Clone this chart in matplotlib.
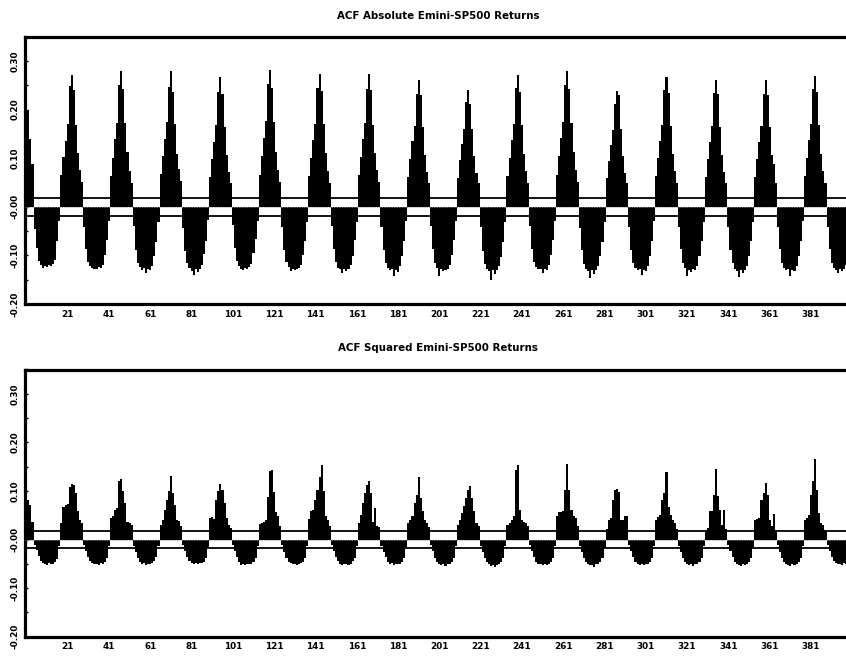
import matplotlib
matplotlib.use("Agg")
import matplotlib.pyplot as plt
from matplotlib.ticker import MultipleLocator, FixedLocator, FixedFormatter

# ---------------- data ----------------
titles = ["ACF Absolute Emini-SP500 Returns", "ACF Squared Emini-SP500 Returns"]
conf_band = 0.018
x_tick_values = [21, 41, 61, 81, 101, 121, 141, 161, 181, 201, 221, 241, 261, 281, 301, 321, 341, 361, 381]
y_tick_values = [0.30, 0.20, 0.10, 0.0, -0.10, -0.20]
y_tick_labels = ["0.30", "0.20", "0.10", "-0.00", "-0.10", "-0.20"]

# ACF of absolute returns, lags 1..400
acf_abs = [
    0.290, 0.200, 0.140, 0.088, -0.045, -0.085, -0.112, -0.120, -0.125, -0.122, -0.124, -0.120, -0.122, -0.118, -0.110, -0.070, -0.030,
    0.066, 0.102, 0.136, 0.170, 0.248, 0.272, 0.240, 0.168, 0.110, 0.076, 0.052,
    -0.042, -0.086, -0.113, -0.121, -0.125, -0.127, -0.128, -0.124, -0.126, -0.119, -0.100, -0.068, -0.030,
    0.064, 0.100, 0.140, 0.172, 0.250, 0.279, 0.242, 0.172, 0.112, 0.074, 0.050,
    -0.040, -0.088, -0.115, -0.124, -0.130, -0.126, -0.136, -0.128, -0.131, -0.122, -0.102, -0.072, -0.032,
    0.068, 0.104, 0.140, 0.175, 0.246, 0.279, 0.236, 0.170, 0.108, 0.078, 0.054,
    -0.044, -0.090, -0.116, -0.126, -0.132, -0.140, -0.128, -0.134, -0.129, -0.120, -0.098, -0.070, -0.028,
    0.062, 0.098, 0.134, 0.168, 0.236, 0.267, 0.232, 0.165, 0.106, 0.072, 0.050,
    -0.038, -0.084, -0.112, -0.122, -0.127, -0.130, -0.126, -0.129, -0.124, -0.117, -0.096, -0.066, -0.030,
    0.066, 0.104, 0.142, 0.176, 0.252, 0.282, 0.244, 0.174, 0.112, 0.076, 0.052,
    -0.042, -0.088, -0.114, -0.124, -0.133, -0.127, -0.130, -0.128, -0.126, -0.119, -0.100, -0.070, -0.032,
    0.064, 0.100, 0.138, 0.170, 0.244, 0.273, 0.238, 0.170, 0.110, 0.074, 0.050,
    -0.040, -0.086, -0.114, -0.125, -0.129, -0.136, -0.127, -0.132, -0.128, -0.120, -0.101, -0.069, -0.031,
    0.066, 0.102, 0.140, 0.172, 0.242, 0.273, 0.240, 0.168, 0.110, 0.076, 0.052,
    -0.042, -0.088, -0.116, -0.126, -0.131, -0.129, -0.143, -0.130, -0.134, -0.121, -0.102, -0.071, -0.030,
    0.062, 0.098, 0.136, 0.166, 0.232, 0.260, 0.230, 0.164, 0.106, 0.072, 0.050,
    -0.040, -0.087, -0.115, -0.125, -0.143, -0.128, -0.133, -0.131, -0.128, -0.120, -0.100, -0.068, -0.029,
    0.060, 0.096, 0.130, 0.160, 0.215, 0.240, 0.212, 0.160, 0.104, 0.070, 0.048,
    -0.042, -0.090, -0.118, -0.128, -0.132, -0.150, -0.130, -0.138, -0.130, -0.122, -0.103, -0.072, -0.032,
    0.064, 0.100, 0.138, 0.170, 0.244, 0.272, 0.236, 0.168, 0.108, 0.074, 0.050,
    -0.040, -0.086, -0.114, -0.124, -0.129, -0.127, -0.136, -0.128, -0.130, -0.120, -0.100, -0.069, -0.030,
    0.066, 0.104, 0.142, 0.174, 0.250, 0.279, 0.242, 0.172, 0.112, 0.076, 0.052,
    -0.043, -0.089, -0.117, -0.127, -0.133, -0.146, -0.131, -0.139, -0.130, -0.122, -0.102, -0.072, -0.031,
    0.060, 0.094, 0.128, 0.158, 0.212, 0.239, 0.230, 0.160, 0.104, 0.070, 0.048,
    -0.041, -0.088, -0.116, -0.126, -0.131, -0.128, -0.140, -0.131, -0.133, -0.121, -0.101, -0.070, -0.030,
    0.064, 0.100, 0.136, 0.168, 0.240, 0.268, 0.234, 0.166, 0.108, 0.074, 0.050,
    -0.041, -0.087, -0.115, -0.126, -0.143, -0.130, -0.134, -0.129, -0.131, -0.121, -0.101, -0.070, -0.031,
    0.062, 0.098, 0.134, 0.166, 0.234, 0.261, 0.232, 0.164, 0.106, 0.072, 0.050,
    -0.042, -0.088, -0.116, -0.127, -0.132, -0.145, -0.131, -0.136, -0.130, -0.122, -0.102, -0.071, -0.031,
    0.062, 0.098, 0.134, 0.166, 0.232, 0.260, 0.230, 0.164, 0.106, 0.088, 0.050,
    -0.041, -0.087, -0.115, -0.126, -0.131, -0.129, -0.143, -0.131, -0.133, -0.121, -0.101, -0.070, -0.030,
    0.064, 0.100, 0.138, 0.170, 0.242, 0.270, 0.236, 0.168, 0.108, 0.074, 0.050,
    -0.041, -0.087, -0.115, -0.125, -0.130, -0.136, -0.128, -0.132, -0.129, -0.120, -0.100, -0.070,
]

# ACF of squared returns, lags 1..400
acf_sq = [
    0.160, 0.082, 0.071, 0.037, -0.012, -0.022, -0.034, -0.044, -0.049, -0.050, -0.052, -0.049, -0.051, -0.050, -0.047, -0.040, -0.014,
    0.034, 0.068, 0.071, 0.074, 0.109, 0.114, 0.112, 0.095, 0.058, 0.040, 0.034,
    -0.012, -0.024, -0.036, -0.045, -0.049, -0.051, -0.050, -0.052, -0.049, -0.050, -0.046, -0.038, -0.014,
    0.044, 0.048, 0.061, 0.065, 0.121, 0.124, 0.100, 0.075, 0.037, 0.035, 0.030,
    -0.013, -0.025, -0.037, -0.046, -0.050, -0.049, -0.052, -0.050, -0.051, -0.049, -0.045, -0.036, -0.013,
    0.031, 0.040, 0.061, 0.082, 0.099, 0.131, 0.095, 0.071, 0.041, 0.038, 0.028,
    -0.012, -0.023, -0.036, -0.045, -0.048, -0.050, -0.049, -0.051, -0.048, -0.049, -0.047, -0.038, -0.015,
    0.044, 0.046, 0.042, 0.082, 0.099, 0.114, 0.102, 0.075, 0.044, 0.030, 0.024,
    -0.011, -0.024, -0.035, -0.046, -0.052, -0.050, -0.053, -0.051, -0.050, -0.051, -0.046, -0.037, -0.014,
    0.033, 0.034, 0.037, 0.040, 0.088, 0.141, 0.143, 0.097, 0.056, 0.048, 0.028,
    -0.012, -0.025, -0.037, -0.046, -0.049, -0.051, -0.050, -0.052, -0.050, -0.049, -0.046, -0.038, -0.014,
    0.042, 0.058, 0.061, 0.082, 0.102, 0.129, 0.153, 0.099, 0.048, 0.040, 0.027,
    -0.012, -0.024, -0.036, -0.045, -0.050, -0.052, -0.051, -0.050, -0.053, -0.050, -0.045, -0.037, -0.014,
    0.034, 0.050, 0.075, 0.095, 0.112, 0.121, 0.095, 0.037, 0.065, 0.027, 0.025,
    -0.013, -0.025, -0.036, -0.046, -0.050, -0.049, -0.052, -0.051, -0.050, -0.051, -0.046, -0.038, -0.015,
    0.034, 0.040, 0.048, 0.075, 0.092, 0.129, 0.085, 0.058, 0.040, 0.034, 0.026,
    -0.012, -0.024, -0.037, -0.046, -0.050, -0.053, -0.050, -0.054, -0.051, -0.050, -0.046, -0.037, -0.014,
    0.031, 0.040, 0.054, 0.070, 0.085, 0.102, 0.111, 0.085, 0.058, 0.034, 0.028,
    -0.013, -0.025, -0.037, -0.047, -0.051, -0.054, -0.052, -0.056, -0.052, -0.050, -0.047, -0.038, -0.014,
    0.030, 0.034, 0.040, 0.048, 0.143, 0.153, 0.060, 0.040, 0.036, 0.034, 0.027,
    -0.012, -0.024, -0.036, -0.046, -0.050, -0.051, -0.053, -0.050, -0.052, -0.050, -0.046, -0.037, -0.014,
    0.048, 0.056, 0.056, 0.058, 0.103, 0.155, 0.102, 0.060, 0.048, 0.045, 0.027,
    -0.013, -0.025, -0.037, -0.046, -0.051, -0.053, -0.052, -0.056, -0.051, -0.050, -0.046, -0.038, -0.015,
    0.022, 0.041, 0.044, 0.082, 0.103, 0.105, 0.098, 0.041, 0.040, 0.048, 0.048,
    -0.012, -0.024, -0.036, -0.046, -0.050, -0.052, -0.050, -0.053, -0.050, -0.051, -0.046, -0.037, -0.014,
    0.041, 0.046, 0.051, 0.082, 0.095, 0.139, 0.068, 0.051, 0.040, 0.034, 0.022,
    -0.013, -0.025, -0.037, -0.046, -0.050, -0.053, -0.051, -0.054, -0.051, -0.050, -0.046, -0.037, -0.014,
    0.020, 0.024, 0.058, 0.058, 0.092, 0.146, 0.090, 0.061, 0.030, 0.061, 0.022,
    -0.012, -0.024, -0.036, -0.046, -0.051, -0.052, -0.054, -0.051, -0.053, -0.050, -0.046, -0.038, -0.015,
    0.041, 0.042, 0.044, 0.082, 0.095, 0.117, 0.092, 0.040, 0.027, 0.053, 0.020,
    -0.012, -0.025, -0.037, -0.046, -0.050, -0.052, -0.055, -0.051, -0.052, -0.050, -0.046, -0.037, -0.014,
    0.041, 0.044, 0.051, 0.092, 0.120, 0.165, 0.103, 0.054, 0.035, 0.030, 0.020,
    -0.012, -0.024, -0.036, -0.045, -0.049, -0.051, -0.050, -0.052, -0.049, -0.050, -0.046, -0.037,
]

series = [acf_abs, acf_sq]
lags = list(range(1, len(acf_abs) + 1))

# ---------------- figure ----------------
W, H = 846, 657
fig = plt.figure(figsize=(W / 100, H / 100), dpi=100)
tick_font = dict(family="DejaVu Sans", weight="bold", size=6.4)

axes_px = [(25.3, 36.7, 304.0), (25.3, 369.5, 636.8)]  # left, top, bottom in pixels
ax_width_px = 826.0

for (left, top, bottom), vals, title in zip(axes_px, series, titles):
    ax = fig.add_axes([left / W, 1 - bottom / H, ax_width_px / W, (bottom - top) / H])
    ax.bar(lags, vals, width=1.0, color="black", edgecolor="none", linewidth=0, antialiased=False)
    ax.axhline(conf_band, color="black", lw=1.3, zorder=3)
    ax.axhline(-conf_band, color="black", lw=1.3, zorder=3)
    ax.axhline(0, color="0.6", lw=0.6, ls=(0, (1, 1)), zorder=3)
    ax.set_xlim(0.5, 400.5)
    ax.set_ylim(-0.20, 0.35)

    for side in ("top", "bottom", "left", "right"):
        ax.spines[side].set_linewidth(2.3)
    ax.xaxis.set_major_locator(FixedLocator(x_tick_values))
    ax.set_xticklabels([str(v) for v in x_tick_values], **tick_font)
    ax.tick_params(axis="x", length=0, pad=4)

    ax.yaxis.set_major_locator(FixedLocator(y_tick_values))
    ax.yaxis.set_major_formatter(FixedFormatter(y_tick_labels))
    ax.yaxis.set_minor_locator(MultipleLocator(0.05))
    for lab in ax.get_yticklabels():
        lab.set_rotation(90)
        lab.set_va("center")
        lab.set_fontproperties(matplotlib.font_manager.FontProperties(**tick_font))
    ax.tick_params(axis="y", which="both", direction="in", length=2.2, width=1, pad=4)

    ax.set_title(title, fontsize=7.4, fontweight="bold", family="DejaVu Sans", pad=13)

fig.savefig("out.png", dpi=100)
